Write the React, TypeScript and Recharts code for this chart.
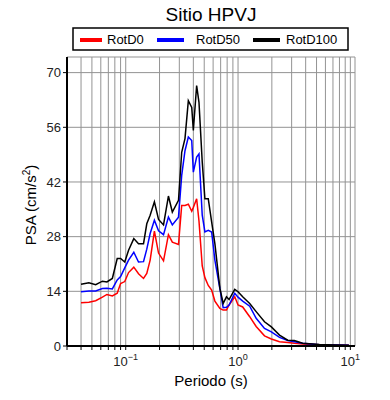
import React from 'react';
import { LineChart, Line, XAxis, YAxis, CartesianGrid } from 'recharts';

// periods (s)
const periods = [
  0.04, 0.047, 0.054, 0.062, 0.068, 0.076, 0.084, 0.09, 0.098, 0.106, 0.118, 0.13, 0.144, 0.154, 0.165,
  0.18, 0.196, 0.217, 0.24, 0.26, 0.295, 0.315, 0.337, 0.361, 0.387, 0.4, 0.428, 0.449, 0.48, 0.507,
  0.543, 0.582, 0.622, 0.689, 0.737, 0.789, 0.832, 0.935, 1.0, 1.1, 1.27, 1.45, 1.72, 1.98, 2.34, 2.77,
  3.17, 3.76, 5.3, 7.4, 9.7,
];

const rotD0 = [
  11.1, 11.2, 11.6, 12.5, 13.2, 12.8, 13.5, 16.0, 16.5, 18.8, 20.2, 18.5, 17.3, 18.6, 22.0,
  29.4, 23.8, 21.8, 28.5, 26.6, 26.0, 36.0, 36.0, 36.3, 34.5, 35.5, 37.7, 32.0, 20.5, 17.5,
  15.5, 14.3, 11.5, 9.6, 9.2, 9.2, 10.5, 12.6, 10.5, 10.0, 7.5, 5.0, 2.6, 1.8, 1.1, 0.9,
  0.7, 0.5, 0.35, 0.25, 0.2,
];

const rotD50 = [
  13.9, 14.1, 14.1, 14.7, 14.8, 14.6, 16.9, 17.8, 20.0, 22.0, 24.0, 21.5, 21.6, 24.8, 28.8,
  32.2, 29.5, 28.5, 33.0, 31.0, 33.0, 43.7, 50.0, 53.5, 52.6, 44.5, 48.4, 49.2, 33.5, 29.2,
  29.6, 29.2, 22.0, 14.7, 9.8, 9.9, 10.5, 13.5, 12.5, 11.5, 10.2, 7.1, 4.5, 3.6, 2.2, 1.4,
  1.1, 0.7, 0.35, 0.25, 0.2,
];

const rotD100 = [
  15.8, 16.2, 15.7, 16.6, 16.4, 17.3, 22.4, 22.4, 21.5, 24.5, 27.5, 26.2, 26.2, 31.3, 33.5,
  36.9, 32.4, 31.0, 38.4, 34.3, 37.3, 49.6, 53.1, 62.8, 61.1, 55.2, 66.7, 62.4, 47.1, 37.7,
  37.7, 31.8, 26.2, 14.8, 10.9, 12.6, 11.9, 14.5, 13.9, 12.6, 10.9, 8.8, 6.2, 4.9, 2.8, 1.5,
  1.4, 0.7, 0.4, 0.25, 0.2,
];

const xTicks = [
  0.03, 0.04, 0.05, 0.06, 0.07, 0.08, 0.09,
  0.1, 0.2, 0.3, 0.4, 0.5, 0.6, 0.7, 0.8, 0.9,
  1, 2, 3, 4, 5, 6, 7, 8, 9, 10,
];
const yTicks = [0, 14, 28, 42, 56, 70];

const data = periods.map((p, i) => ({ p, d0: rotD0[i], d50: rotD50[i], d100: rotD100[i] }));

const FONT = 'Liberation Sans, Arial, Helvetica, sans-serif';

const XTick = (props: any) => {
  const { x, y, payload } = props;
  const lg = Math.log10(payload.value);
  const e = Math.round(lg);
  if (Math.abs(lg - e) > 1e-6) return <g />;
  return (
    <text x={x} y={y + 14} textAnchor="middle" fontSize={13} fill="#222" fontFamily={FONT}>
      10
      <tspan dy={-6} fontSize={9}>{e < 0 ? '\u2212' + -e : String(e)}</tspan>
    </text>
  );
};

const EmptyTick = () => <g />;

export default function App() {
  return (
    <div style={{ position: 'absolute', left: 0, top: 0, width: 390, height: 400, background: '#fff' }}>
      <LineChart
        width={390}
        height={400}
        data={data}
        margin={{ top: 57, right: 35, bottom: 14, left: 27 }}
        style={{ fontFamily: FONT }}
      >
        <CartesianGrid stroke="#939393" strokeWidth={1} />
        <XAxis
          dataKey="p"
          type="number"
          scale="log"
          domain={[0.03, 11]}
          allowDataOverflow
          ticks={xTicks}
          interval={0}
          height={40}
          tick={<XTick />}
          tickSize={4}
          tickMargin={2}
          axisLine={{ stroke: '#000', strokeWidth: 2 }}
          tickLine={{ stroke: '#000' }}
        />
        <XAxis
          xAxisId="top"
          orientation="top"
          dataKey="p"
          type="number"
          scale="log"
          domain={[0.03, 11]}
          allowDataOverflow
          ticks={xTicks}
          interval={0}
          height={0}
          tick={<EmptyTick />}
          tickSize={4}
          axisLine={{ stroke: '#000', strokeWidth: 1.5 }}
          tickLine={{ stroke: '#000' }}
        />
        <YAxis
          type="number"
          domain={[0, 74]}
          ticks={yTicks}
          interval={0}
          width={40}
          tickSize={4}
          tickMargin={2}
          tick={{ fontSize: 13, fill: '#222', fontFamily: FONT }}
          axisLine={{ stroke: '#000', strokeWidth: 2 }}
          tickLine={{ stroke: '#000' }}
        />
        <YAxis
          yAxisId="right"
          orientation="right"
          type="number"
          domain={[0, 74]}
          ticks={yTicks}
          interval={0}
          width={0}
          tick={<EmptyTick />}
          tickSize={4}
          axisLine={{ stroke: '#000', strokeWidth: 1.5 }}
          tickLine={{ stroke: '#000' }}
        />
        <Line type="linear" dataKey="d0" stroke="#ff0000" strokeWidth={1.5} dot={false} isAnimationActive={false} />
        <Line type="linear" dataKey="d50" stroke="#0000ff" strokeWidth={1.5} dot={false} isAnimationActive={false} />
        <Line type="linear" dataKey="d100" stroke="#000000" strokeWidth={1.5} dot={false} isAnimationActive={false} />
      </LineChart>

      <svg
        width={390}
        height={400}
        style={{ position: 'absolute', left: 0, top: 0, pointerEvents: 'none' }}
        fontFamily={FONT}
      >
        <text x={211} y={21} textAnchor="middle" fontSize={19} fill="#000">Sitio HPVJ</text>
        <rect x={73} y={28} width={275} height={22} fill="#fff" stroke="#000" strokeWidth={1.5} />
        <line x1={80} y1={40} x2={102} y2={40} stroke="#ff0000" strokeWidth={4} />
        <text x={107} y={44} fontSize={13} fill="#000">RotD0</text>
        <line x1={157} y1={40} x2={184} y2={40} stroke="#0000ff" strokeWidth={4} />
        <text x={196} y={44} fontSize={13} fill="#000">RotD50</text>
        <line x1={253} y1={40} x2={280} y2={40} stroke="#000" strokeWidth={4} />
        <text x={286} y={44} fontSize={13} fill="#000">RotD100</text>
        <text x={211} y={386} textAnchor="middle" fontSize={15} fill="#000">Periodo (s)</text>
        <text x={36} y={205} textAnchor="middle" fontSize={15} fill="#000" transform="rotate(-90 36 205)">
          PSA (cm/s<tspan dy={-6} fontSize={10}>2</tspan><tspan dy={6}>)</tspan>
        </text>
      </svg>
    </div>
  );
}
